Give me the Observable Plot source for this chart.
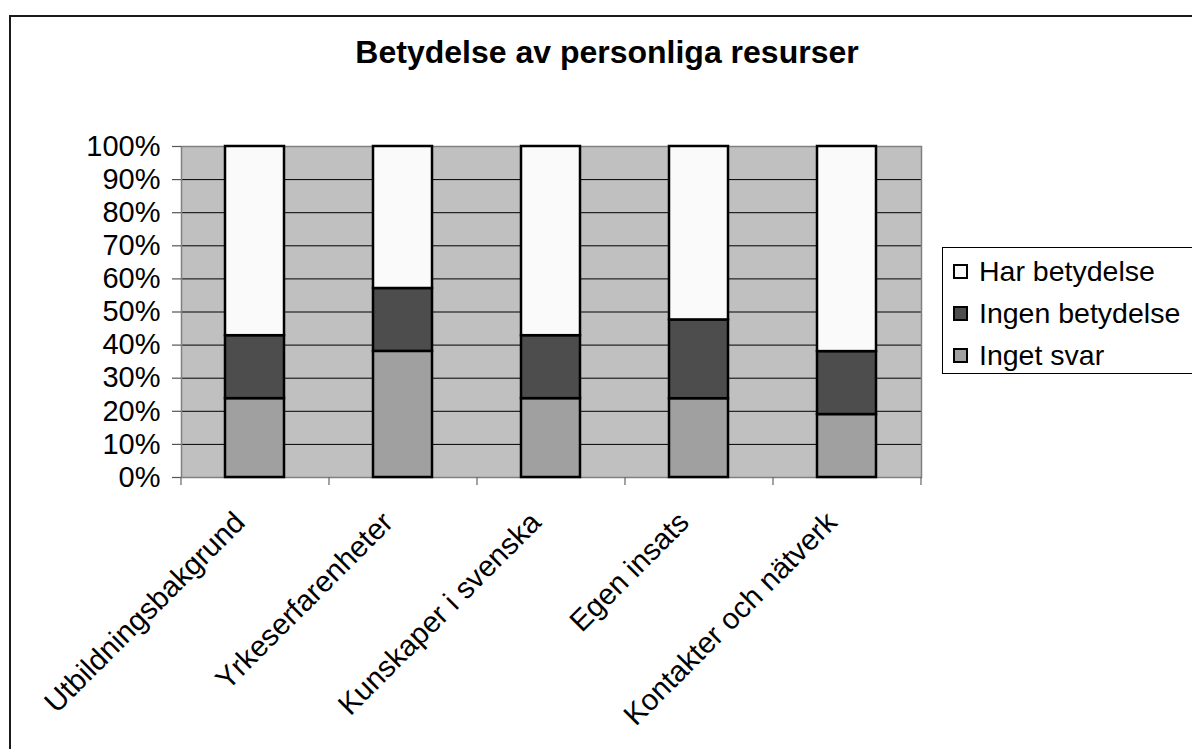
<!DOCTYPE html>
<html>
<head>
<meta charset="utf-8">
<script src="https://cdn.jsdelivr.net/npm/d3@7"></script>
<script src="https://cdn.jsdelivr.net/npm/@observablehq/plot@0.6"></script>
<style>
  html, body { margin: 0; padding: 0; background: #fff; }
  #wrap { position: relative; width: 1192px; height: 749px; overflow: hidden; font-family: "Liberation Sans", Arial, sans-serif; }
  #frame { position: absolute; left: 9px; top: 15px; width: 1400px; height: 1000px; border: 2px solid #1a1a1a; box-sizing: border-box; }
  #title { position: absolute; left: 0; width: 1214px; top: 34px; text-align: center; font-weight: bold; font-size: 32px; line-height: 36px; color: #000; }
  #chart { position: absolute; left: 0; top: 0; }
  #legend { position: absolute; left: 942px; top: 247px; width: 300px; height: 127px; border: 1px solid #000; box-sizing: border-box; background: #fff; padding-top: 2px; }
  .item { display: flex; align-items: center; height: 42px; font-size: 28.5px; color: #000; }
  .sw { width: 15px; height: 15px; border: 2px solid #000; box-sizing: border-box; margin-left: 10px; margin-right: 11px; }
</style>
</head>
<body>
<div id="wrap">
  <div id="frame"></div>
  <div id="chart"></div>
  <div id="title"></div>
  <div id="legend"></div>
</div>
<script>
const title = "Betydelse av personliga resurser";
const categories = ["Utbildningsbakgrund", "Yrkeserfarenheter", "Kunskaper i svenska", "Egen insats", "Kontakter och nätverk"];
const seriesNames = ["Inget svar", "Ingen betydelse", "Har betydelse"];
const ingetSvar = [23.8, 38.1, 23.8, 23.8, 19.0];
const ingenBetydelse = [19.0, 19.0, 19.0, 23.8, 19.0];
const harBetydelse = [57.1, 42.9, 57.1, 52.4, 61.9];
const seriesColors = ["#A0A0A0", "#4D4D4D", "#FAFAFA"];
const legendOrder = ["Har betydelse", "Ingen betydelse", "Inget svar"];
const yTicks = [0, 0.1, 0.2, 0.3, 0.4, 0.5, 0.6, 0.7, 0.8, 0.9, 1.0];

const seriesValues = [ingetSvar, ingenBetydelse, harBetydelse];
const rows = [];
seriesNames.forEach((s, si) => {
  categories.forEach((c, ci) => rows.push({category: c, series: s, value: seriesValues[si][ci]}));
});

const W = 1192, H = 749;
const mL = 181, mR = 271, mT = 146, mB = 272;
const step = (W - mL - mR) / categories.length;
const font = "Liberation Sans, Arial, sans-serif";

const plot = Plot.plot({
  width: W, height: H,
  marginLeft: mL, marginRight: mR, marginTop: mT, marginBottom: mB,
  style: {fontFamily: font, background: "transparent", color: "#000"},
  x: {domain: categories, paddingInner: 0.6, paddingOuter: 0.3, label: null},
  y: {domain: [0, 1], label: null},
  color: {domain: seriesNames, range: seriesColors},
  marks: [
    Plot.frame({fill: "#C0C0C0", stroke: "none"}),
    Plot.ruleY(yTicks, {stroke: "#000", strokeWidth: 1}),
    Plot.frame({stroke: "#808080", strokeWidth: 1.5}),
    Plot.barY(rows, Plot.stackY({offset: "normalize", order: null}, {
      x: "category", y: "value", fill: "series", stroke: "#000", strokeWidth: 2.5
    })),
    Plot.axisY({ticks: yTicks, tickFormat: d3.format(".0%"), tickSize: 9, tickPadding: 12, fontSize: 29, stroke: "#555", strokeWidth: 1.2, label: null}),
    Plot.axisX({tickSize: 8, tickFormat: () => "", dx: -step / 2, stroke: "#666", strokeWidth: 1.2, label: null}),
    Plot.axisX({ticks: [categories[categories.length - 1]], tickSize: 8, tickFormat: () => "", dx: step / 2, stroke: "#666", strokeWidth: 1.2, label: null}),
    Plot.text(categories, {x: d => d, y: () => 0, text: d => d, rotate: -45, textAnchor: "end", lineAnchor: "middle", fontSize: 29.5, dx: -15, dy: 40, fill: "#000"})
  ]
});
document.getElementById("chart").appendChild(plot);
document.getElementById("title").textContent = title;

const leg = document.getElementById("legend");
legendOrder.forEach(name => {
  const it = document.createElement("div");
  it.className = "item";
  const sw = document.createElement("div");
  sw.className = "sw";
  sw.style.background = seriesColors[seriesNames.indexOf(name)];
  const t = document.createElement("span");
  t.textContent = name;
  it.appendChild(sw); it.appendChild(t);
  leg.appendChild(it);
});
</script>
</body>
</html>
